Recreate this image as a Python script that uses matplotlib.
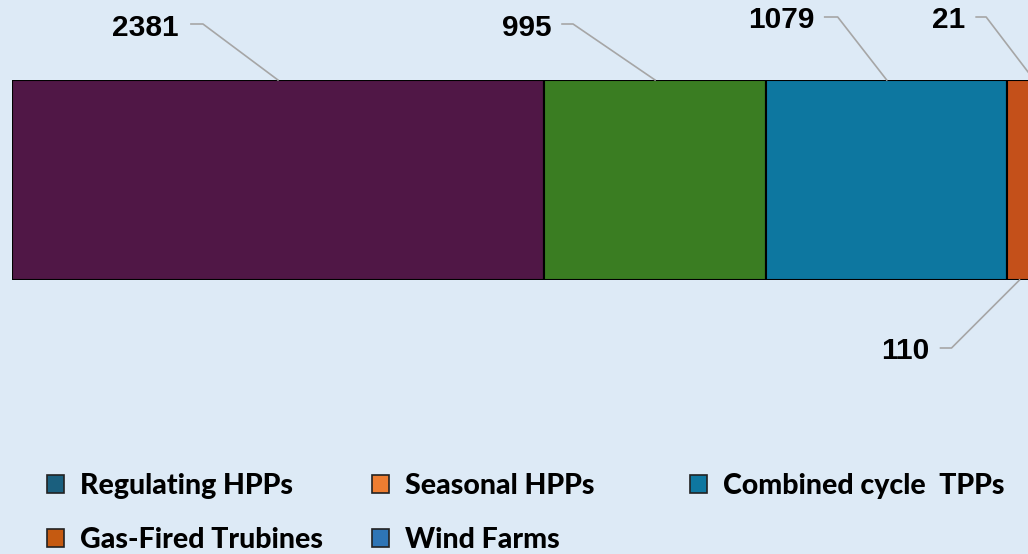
import matplotlib.pyplot as plt
from matplotlib.patches import Patch
from matplotlib.lines import Line2D

# Data
values = [2381, 995, 1079, 110, 21]
bar_colors = ['#501746', '#3A7D22', '#0D77A0', '#C4501A', '#2E75B6']
categories = ['Regulating HPPs', 'Seasonal HPPs', 'Combined cycle  TPPs',
              'Gas-Fired Trubines', 'Wind Farms']
legend_colors = ['#1A5F7E', '#ED7D31', '#0E77A0', '#C55A11', '#2E75B6']

# label layout in pixels from the segment tip:
# (text right, line start, elbow, text dy, line dy, on top)
label_offsets = [(-99, -87, -75, 52, 56, True),
                 (-103, -93, -82, 52, 56, True),
                 (-72, -62, -49, 60, 63, True),
                 (-90, -79, -68, -71, -68, False),
                 (-69, -58, -48, 60, 63, True)]

bg = '#DDEAF6'
W, H = 1028, 554
fig = plt.figure(figsize=(W / 100, H / 100), dpi=100, facecolor=bg)
ax = fig.add_axes([12 / W, (H - 280) / H, 1024.5 / W, 200 / H])
ax.set_facecolor(bg)

left = 0
mids = []
for v, c in zip(values, bar_colors):
    ax.barh(0, v, left=left, height=1, color=c, edgecolor='black', linewidth=1.5)
    mids.append(left + v / 2)
    left += v

ax.set_xlim(0, sum(values))
ax.set_ylim(-0.5, 0.5)
ax.axis('off')

# data labels with leader lines
for v, m, (tx, ls, el, tdy, ldy, top) in zip(values, mids, label_offsets):
    yb = 0.5 if top else -0.5
    px, py = ax.transData.transform((m, yb))
    xs = [px + ls, px + el, px]
    ys = [py + ldy, py + ldy, py]
    fig.add_artist(Line2D([x / W for x in xs], [y / H for y in ys],
                          color='#A6A6A6', linewidth=1.2))
    fig.text((px + tx) / W, (py + tdy) / H, str(v), ha='right', va='center',
             fontsize=21.5, fontweight='bold', family='Liberation Sans', color='black')

# legend, laid out in three columns
handles = [Patch(facecolor=c, edgecolor='#222222', linewidth=1.2) for c in legend_colors]
cols = [([0, 3], 47), ([1, 4], 372), ([2], 690)]
for idx, x0 in cols:
    leg = fig.legend([handles[i] for i in idx], [categories[i] for i in idx],
                     loc='upper left', bbox_to_anchor=(x0 / W, (H - 473) / H),
                     frameon=False, borderpad=0, borderaxespad=0,
                     handlelength=0.6, handleheight=0.6, handletextpad=0.55,
                     labelspacing=1.0,
                     prop={'family': 'Lato', 'weight': 'black', 'size': 20.5})

fig.savefig('out.png', dpi=100, facecolor=bg)
